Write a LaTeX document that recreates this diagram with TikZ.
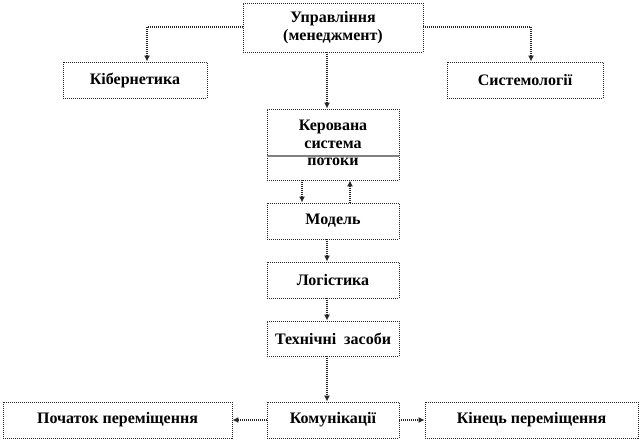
\documentclass[tikz,border=0pt]{standalone}
\usepackage{fontspec}
\setmainfont{Liberation Serif}
\usetikzlibrary{arrows.meta}
\begin{document}
\begin{tikzpicture}[x=0.75pt,y=-0.75pt,
  box/.style={draw=black!85, line width=0.7pt, dash pattern=on 0.75pt off 0.75pt, fill=white,
    inner sep=0pt, align=center, font=\fontsize{12}{13.5}\selectfont\bfseries},
  lbl/.style={inner sep=0pt, align=center, font=\fontsize{12}{13.5}\selectfont\bfseries},
  con/.style={draw=black!85, line width=0.9pt, dash pattern=on 0.75pt off 0.75pt,
    -{Latex[length=4.5pt,width=4.5pt,sep=0pt]}}]
\useasboundingbox (0,0) rectangle (642,441);
% boxes
\node[box, minimum width=135pt, minimum height=36.75pt] (upr) at (333,27.5) {Управління\\(менеджмент)};
\node[box, minimum width=108pt, minimum height=27pt] (kib) at (135,80) {Кібернетика};
\node[box, minimum width=117pt, minimum height=27pt] (sys) at (525,80) {Системології};
\node[box, minimum width=99pt, minimum height=53.25pt] (ker) at (333,144.5) {};
\node[lbl] (kert) at (333,134) {Керована\\система};
\node[lbl] (kerp) at (333,162) {потоки};
\node[box, minimum width=99pt, minimum height=27pt] (mod) at (333,221) {Модель};
\node[box, minimum width=99pt, minimum height=27pt] (log) at (333,280) {Логістика};
\node[box, minimum width=99pt, minimum height=26.25pt] (tech) at (333,338.5) {Технічні\ \ засоби};
\node[box, minimum width=99pt, minimum height=27pt] (kom) at (333,420) {Комунікації};
\node[box, minimum width=171.75pt, minimum height=27pt] (poch) at (117.5,420) {Початок переміщення};
\node[box, minimum width=159.75pt, minimum height=27pt] (kin) at (531.5,420) {Кінець переміщення};
% helper coordinates
\coordinate (sp) at (327,0);
\coordinate (kl) at (147,27);
\coordinate (sr) at (531,27);
\coordinate (dl) at (302,0);
\coordinate (ur) at (350,0);
\coordinate (dv) at (0,156);
% divider
\draw[black!50, line width=1.2pt] (ker.west |- dv) -- (ker.east |- dv);
% connectors
\draw[con] (upr.west |- kl) -- (kl) -- (kib.north -| kl);
\draw[con] (upr.east |- sr) -- (sr) -- (sys.north -| sr);
\draw[con] (upr.south -| sp) -- (ker.north -| sp);
\draw[con] (ker.south -| dl) -- (mod.north -| dl);
\draw[con] (mod.north -| ur) -- (ker.south -| ur);
\draw[con] (mod.south -| sp) -- (log.north -| sp);
\draw[con] (log.south -| sp) -- (tech.north -| sp);
\draw[con] (tech.south -| sp) -- (kom.north -| sp);
\draw[con] (kom.west) -- (poch.east);
\draw[con] (kom.east) -- (kin.west);
\end{tikzpicture}
\end{document}
